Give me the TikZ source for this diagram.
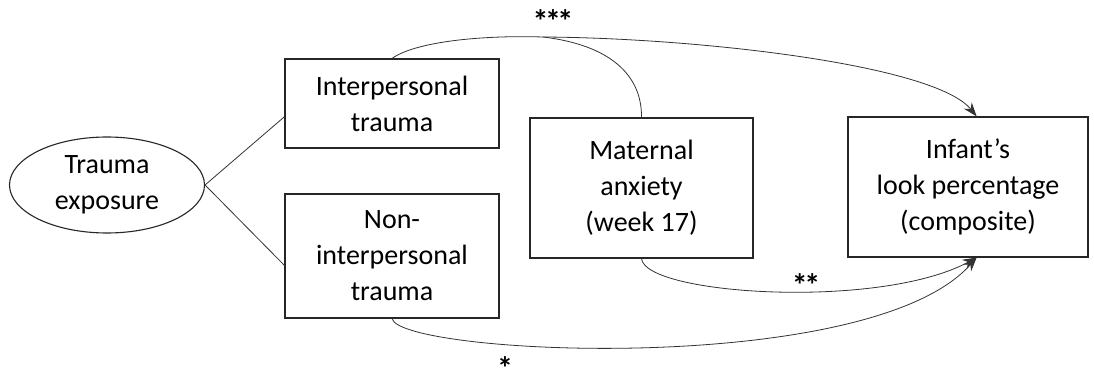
\documentclass[tikz,border=0pt]{standalone}
\usepackage{fontspec}
\setmainfont{Carlito}
\usetikzlibrary{shapes.geometric, arrows.meta}

\begin{document}
\begin{tikzpicture}[x = 1pt, y = -1pt,
        var/.style = {draw, line width = 1.1pt, color = black!85, text = black,
                      inner sep = 0pt, align = center,
                      font = \fontsize{28}{36}\selectfont},
        path/.style = {line width = .8pt, color = black!80},
        sig/.style = {inner sep = 0pt, font = \fontsize{32}{32}\bfseries}]
        \useasboundingbox (0,0) rectangle (1094,371);

        \node[var, ellipse, minimum width = 195pt, minimum height = 96pt]
             (expo) at (107,185) {Trauma\\exposure};
        \node[var, minimum width = 214pt, minimum height = 89pt]
             (inter) at (392,103.5) {Interpersonal\\trauma};
        \node[var, minimum width = 214pt, minimum height = 124pt]
             (nonint) at (392,256) {Non-\\interpersonal\\trauma};
        \node[var, minimum width = 223pt, minimum height = 140pt]
             (mat) at (641.5,188) {Maternal\\anxiety\\(week 17)};
        \node[var, minimum width = 240pt, minimum height = 140pt]
             (infant) at (968,187) {Infant’s\\look percentage\\(composite)};

        \draw[path] (expo.east) -- (inter.187);
        \draw[path] (expo.east) -- (nonint.185);

        \coordinate (join) at (543,37);
        \draw[path, -{Stealth[length = 14pt, width = 10pt]}]
             (inter.north) .. controls (415,42) and (480,35) .. (join)
             .. controls (700,38) and (935,65) .. (infant.83);
        \draw[path] (mat.north) .. controls (642,75) and (610,45) .. (join);
        \draw[path, -{Stealth[length = 14pt, width = 10pt]}]
             (mat.south) .. controls (645,295) and (880,310) .. (infant.277);
        \draw[path, -{Stealth[length = 14pt, width = 10pt]}]
             (nonint.south) .. controls (400,355) and (870,378) .. (infant.277);

        \node[sig] (s3) at (553,21.5) {*\kern-3.5pt*\kern-3.5pt*};
        \node[sig] (s2) at (806,285.5) {*\kern-3.5pt*};
        \node[sig] (s1) at (505,363) {\raisebox{-10.5pt}[11pt][0pt]{*}};
      \end{tikzpicture}
\end{document}
